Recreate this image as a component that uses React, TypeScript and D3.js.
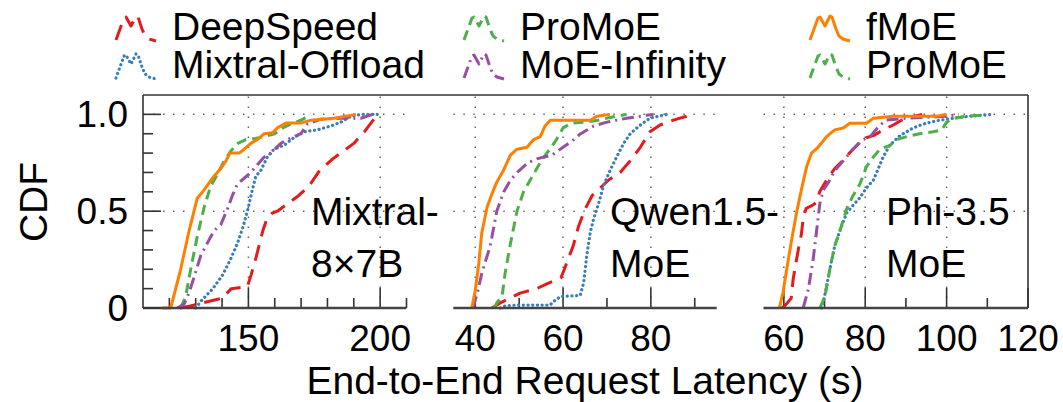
import React from 'react';
import * as d3 from 'd3';

type P = [number, number];

// ---------- data ----------
const seriesNames = ['DeepSpeed', 'Mixtral-Offload', 'ProMoE', 'MoE-Infinity', 'fMoE'];
const legendRows = [
  ['DeepSpeed', 'ProMoE', 'fMoE'],
  ['Mixtral-Offload', 'MoE-Infinity', 'ProMoE'],
];
const panelTitles = [['Mixtral-', '8×7B'], ['Qwen1.5-', 'MoE'], ['Phi-3.5', 'MoE']];
const xTickLabels = [[150, 200], [40, 60, 80], [60, 80, 100, 120]];
const yTickLabels = [0, 0.5, 1.0];
const yTickText = ['0', '0.5', '1.0'];
const xAxisTitle = 'End-to-End Request Latency (s)';
const yAxisTitle = 'CDF';

// Mixtral-8x7B
const mixDeepSpeed: P[] = [[124, 0], [128, 0.01], [133.6, 0.03], [140, 0.05], [143.5, 0.1], [149.6, 0.11], [151, 0.17], [152.5, 0.24], [154, 0.32], [155.5, 0.4], [157, 0.46], [159, 0.49], [161, 0.5], [165, 0.54], [169, 0.58], [173, 0.63], [177, 0.71], [182, 0.77], [186, 0.81], [190, 0.85], [194, 0.91], [199, 1.0]];
const mixOffload: P[] = [[130, 0], [132.3, 0.04], [136.5, 0.1], [140.2, 0.17], [143.5, 0.26], [146, 0.34], [148, 0.42], [149.8, 0.51], [151.5, 0.61], [152.8, 0.68], [154.7, 0.71], [157.2, 0.78], [159.7, 0.82], [163.5, 0.84], [167.3, 0.88], [171.1, 0.91], [176.2, 0.92], [181.3, 0.94], [185.1, 0.96], [188.9, 0.99], [192.7, 1.0], [200.3, 1.0]];
const mixProMoE: P[] = [[124.3, 0], [126.2, 0.06], [128.1, 0.2], [130.6, 0.37], [133.2, 0.52], [135.7, 0.63], [138.2, 0.69], [140.8, 0.76], [143.3, 0.81], [146, 0.85], [149, 0.87], [152.6, 0.876], [154.5, 0.88], [157, 0.89], [160, 0.9], [163, 0.93], [166, 0.95], [170, 0.97], [173.7, 1.0]];
const mixInfinity: P[] = [[123, 0], [125.6, 0.02], [127.5, 0.08], [129.4, 0.16], [131.9, 0.27], [134.4, 0.335], [137, 0.4], [139.5, 0.43], [142, 0.51], [143.9, 0.58], [145.8, 0.64], [148.4, 0.67], [150.9, 0.7], [153.4, 0.74], [156, 0.78], [158.5, 0.8], [162.3, 0.85], [164.8, 0.87], [169.9, 0.9], [172.4, 0.95], [177.5, 0.975], [185, 0.98], [192.7, 0.98], [196.5, 0.997], [199, 1.0]];
const mixFMoE: P[] = [[117.3, 0], [120.5, 0], [124.3, 0.2], [127.5, 0.4], [130.6, 0.567], [133.2, 0.61], [136.3, 0.67], [139.5, 0.72], [141.5, 0.76], [143, 0.8], [146.5, 0.8], [148.4, 0.82], [150.9, 0.85], [153.4, 0.87], [156, 0.9], [159.1, 0.905], [161, 0.93], [164.2, 0.955], [169.9, 0.955], [173.7, 0.97], [182.5, 0.98], [190.8, 1.0]];

// Qwen1.5-MoE
const qwenDeepSpeed: P[] = [[43.8, 0], [45.7, 0.026], [50.2, 0.077], [54, 0.1], [56.3, 0.125], [59.5, 0.155], [60.3, 0.2], [61.1, 0.25], [62.3, 0.32], [63.5, 0.42], [65, 0.51], [66.6, 0.58], [68.5, 0.62], [70.3, 0.66], [73, 0.7], [75.3, 0.76], [77.6, 0.83], [79.8, 0.91], [82.1, 0.945], [85.1, 0.97], [89.7, 1.0]];
const qwenOffload: P[] = [[45.7, 0], [47, 0.012], [49.5, 0.015], [57, 0.015], [58.2, 0.04], [59.5, 0.06], [63.9, 0.065], [64.7, 0.13], [65.4, 0.27], [66.2, 0.39], [66.9, 0.455], [68.1, 0.54], [69.2, 0.63], [70.7, 0.71], [72.2, 0.78], [73.8, 0.85], [75.3, 0.9], [77.6, 0.945], [79.8, 0.98], [83.6, 1.0]];
const qwenProMoE: P[] = [[44.3, 0], [45, 0.03], [46.1, 0.06], [46.8, 0.18], [48, 0.33], [49.5, 0.5], [51, 0.6], [53, 0.68], [55, 0.76], [57, 0.82], [58.5, 0.87], [60, 0.93], [62, 0.955], [65, 0.96], [68, 0.97], [71, 0.985], [74.5, 1.0]];
const qwenInfinity: P[] = [[39.5, 0], [40.5, 0.08], [41.5, 0.18], [43.4, 0.32], [44.9, 0.5], [46.5, 0.6], [48, 0.66], [50, 0.71], [52, 0.75], [54, 0.77], [57.5, 0.79], [60, 0.83], [62.5, 0.87], [64, 0.9], [67, 0.94], [70, 0.96], [74.5, 0.98], [79, 0.995], [80.6, 1.0]];
const qwenFMoE: P[] = [[39.2, 0], [40, 0.09], [40.8, 0.23], [41.5, 0.39], [42.7, 0.52], [43.8, 0.59], [44.9, 0.65], [46.4, 0.71], [48, 0.79], [49.5, 0.82], [51.8, 0.83], [53.3, 0.87], [54.8, 0.885], [55.9, 0.94], [57.1, 0.97], [61.6, 0.97], [66.2, 0.97], [67.7, 0.99], [70.7, 1.0]];

// Phi-3.5 MoE
const phiDeepSpeed: P[] = [[59.5, 0], [60.2, 0.01], [61.8, 0.05], [62.3, 0.15], [63.2, 0.26], [63.8, 0.33], [64.3, 0.38], [64.8, 0.47], [65.5, 0.515], [67, 0.53], [68, 0.545], [68.8, 0.6], [70.5, 0.66], [72.5, 0.72], [74.6, 0.765], [77, 0.82], [79.5, 0.875], [82, 0.89], [84.4, 0.92], [86.9, 0.945], [88.9, 0.97], [92, 0.99], [94, 1.0]];
const phiOffload: P[] = [[69.3, 0], [70.1, 0.07], [71.3, 0.2], [72.5, 0.32], [73.8, 0.4], [75.4, 0.49], [77, 0.53], [78.7, 0.57], [80.3, 0.62], [82, 0.66], [83.2, 0.72], [84.4, 0.78], [86, 0.84], [88.5, 0.89], [91.8, 0.93], [94.3, 0.95], [97.5, 0.967], [101.6, 0.98], [105.7, 0.99], [111.5, 1.0]];
const phiProMoE: P[] = [[68.85, 0], [70.1, 0.06], [71.3, 0.2], [72.5, 0.32], [73.8, 0.4], [75.4, 0.51], [77, 0.58], [78.7, 0.64], [80.3, 0.73], [82, 0.78], [83.6, 0.82], [86.1, 0.84], [87.7, 0.87], [90.2, 0.885], [93.4, 0.9], [96.7, 0.91], [98.8, 0.92], [100, 0.96], [101.6, 0.98], [104.9, 0.99], [108.2, 0.996], [109.8, 1.0]];
const phiInfinity: P[] = [[64.75, 0], [66, 0.095], [67.2, 0.25], [68, 0.39], [68.85, 0.54], [69.7, 0.61], [71, 0.65], [72.5, 0.71], [74.6, 0.76], [77, 0.82], [79.5, 0.87], [81, 0.88], [83, 0.93], [85, 0.97], [90, 0.98], [95, 0.985], [100, 0.99], [103, 1.0]];
const phiFMoE: P[] = [[58.9, 0], [59.8, 0.08], [60.7, 0.2], [61.9, 0.35], [63.1, 0.49], [64.3, 0.61], [65.6, 0.73], [66.8, 0.8], [68.4, 0.83], [70.5, 0.885], [72.5, 0.92], [74.6, 0.93], [76.2, 0.954], [80.3, 0.954], [82, 0.98], [86.9, 0.99], [97.5, 0.99], [100, 1.0]];

const panelData: Record<string, P[]>[] = [
  { 'DeepSpeed': mixDeepSpeed, 'Mixtral-Offload': mixOffload, 'ProMoE': mixProMoE, 'MoE-Infinity': mixInfinity, 'fMoE': mixFMoE },
  { 'DeepSpeed': qwenDeepSpeed, 'Mixtral-Offload': qwenOffload, 'ProMoE': qwenProMoE, 'MoE-Infinity': qwenInfinity, 'fMoE': qwenFMoE },
  { 'DeepSpeed': phiDeepSpeed, 'Mixtral-Offload': phiOffload, 'ProMoE': phiProMoE, 'MoE-Infinity': phiInfinity, 'fMoE': phiFMoE },
];

// ---------- styles / layout ----------
const styles: Record<string, { color: string; dash: string; cap: string; width: number }> = {
  'DeepSpeed': { color: '#e41a1c', dash: '16 9', cap: 'butt', width: 3 },
  'Mixtral-Offload': { color: '#377eb8', dash: '0.1 4.6', cap: 'round', width: 3.2 },
  'ProMoE': { color: '#4daf4a', dash: '10 6', cap: 'butt', width: 3 },
  'MoE-Infinity': { color: '#984ea3', dash: '12 5 2 5', cap: 'butt', width: 3 },
  'fMoE': { color: '#ff7f00', dash: 'none', cap: 'butt', width: 3 },
};

const panels = [
  { x0: 143, x1: 406.5, domain: [110, 210], minor: d3.range(120, 211, 10) },
  { x0: 453.3, x1: 716.7, domain: [35, 95], minor: d3.range(40, 91, 10) },
  { x0: 763.5, x1: 1028, domain: [55, 120], minor: d3.range(60, 121, 10) },
];

const TOP = 95;
const BOTTOM = 308;
const FONT = '"Liberation Sans", Arial, Helvetica, sans-serif';
const FS = 37;
const FS_BIG = 39;

const yScale = d3.scaleLinear().domain([0, 1.1]).range([BOTTOM, TOP]);

const iconPts: P[] = [[0, 27], [4, 16], [8, 5], [10, 4], [15, 13], [20, 3], [22, 4], [26, 16], [29, 23], [33, 26], [40, 28]];
const legendTextX = [172, 520, 866];
const legendBaseline = [40, 78];

export default function App() {
  const gridStyle = { stroke: '#666', strokeWidth: 1.5, strokeDasharray: '1.5 8.5', fill: 'none' };
  const iconLine = d3.line<P>().x(d => d[0]).y(d => d[1]);

  return (
    <svg width={1063} height={402} viewBox="0 0 1063 402" style={{ display: 'block', position: 'absolute', left: 0, top: 0, background: '#fff' }}>
      <rect x={0} y={0} width={1063} height={402} fill="#fff" />
      {/* legend */}
      {legendRows.map((row, ri) =>
        row.map((name, ci) => {
          const st = styles[name];
          const tx = legendTextX[ci];
          const by = legendBaseline[ri];
          const ix = tx - 56;
          const iy = by - 27;
          return (
            <g key={`lg-${ri}-${ci}`}>
              <path
                d={iconLine(iconPts.map(p => [ix + p[0], iy + p[1]] as P)) || ''}
                fill="none"
                stroke={st.color}
                strokeWidth={st.width}
                strokeDasharray={st.dash}
                strokeLinecap={st.cap as any}
                strokeLinejoin="round"
              />
              <text x={tx} y={by} fontFamily={FONT} fontSize={FS_BIG} fill="#000">{name}</text>
            </g>
          );
        })
      )}

      {panels.map((pn, pi) => {
        const xs = d3.scaleLinear().domain(pn.domain).range([pn.x0, pn.x1]);
        const line = d3.line<P>().x(d => xs(d[0])).y(d => yScale(d[1]));
        const majors = xTickLabels[pi];
        return (
          <g key={`p-${pi}`}>
            {/* grid */}
            {majors.filter(v => v < pn.domain[1]).map(v => (
              <line key={`gv-${v}`} x1={xs(v)} x2={xs(v)} y1={BOTTOM} y2={TOP} style={gridStyle} />
            ))}
            {[0.5, 1.0].map(v => (
              <line key={`gh-${v}`} x1={pn.x0} x2={pn.x1} y1={yScale(v)} y2={yScale(v)} style={gridStyle} />
            ))}
            {/* x ticks */}
            {pn.minor.map(v => {
              const isMajor = majors.includes(v);
              return (
                <line key={`xt-${v}`} x1={xs(v)} x2={xs(v)} y1={BOTTOM} y2={BOTTOM - (isMajor ? 20 : 10)} stroke="#333" strokeWidth={1.6} />
              );
            })}
            {/* curves */}
            {seriesNames.map(name => {
              const st = styles[name];
              return (
                <path
                  key={`c-${name}`}
                  d={line(panelData[pi][name]) || ''}
                  fill="none"
                  stroke={st.color}
                  strokeWidth={st.width}
                  strokeDasharray={st.dash}
                  strokeLinecap={st.cap as any}
                  strokeLinejoin="round"
                />
              );
            })}
            {/* bottom axis */}
            <line x1={pn.x0} x2={pn.x1} y1={BOTTOM} y2={BOTTOM} stroke="#444" strokeWidth={2.5} />
            {/* tick labels */}
            {majors.map(v => (
              <text key={`xl-${v}`} x={xs(v)} y={351} textAnchor="middle" fontFamily={FONT} fontSize={FS} fill="#000">{v}</text>
            ))}
            {/* panel title */}
            <text fontFamily={FONT} fontSize={FS_BIG} fill="#000">
              <tspan x={[311, 610, 886][pi]} y={225}>{panelTitles[pi][0]}</tspan>
              <tspan x={[311, 610, 886][pi]} y={277}>{panelTitles[pi][1]}</tspan>
            </text>
          </g>
        );
      })}

      {/* frame */}
      <line x1={143} x2={1028} y1={TOP} y2={TOP} stroke="#333" strokeWidth={1.6} />
      <line x1={143} x2={143} y1={TOP} y2={BOTTOM} stroke="#333" strokeWidth={1.6} />
      <line x1={1028} x2={1028} y1={TOP} y2={BOTTOM} stroke="#333" strokeWidth={1.6} />

      {/* y ticks */}
      {d3.range(0, 11).map(i => {
        const v = i / 10;
        const major = i === 0 || i === 5 || i === 10;
        return <line key={`yt-${i}`} x1={143} x2={143 + (major ? 18 : 10)} y1={yScale(v)} y2={yScale(v)} stroke="#333" strokeWidth={1.6} />;
      })}
      {yTickLabels.map((v, i) => (
        <text key={`yl-${i}`} x={128} y={yScale(v) + 13} textAnchor="end" fontFamily={FONT} fontSize={FS} fill="#000">{yTickText[i]}</text>
      ))}

      {/* axis titles */}
      <text x={585} y={394} textAnchor="middle" fontFamily={FONT} fontSize={39} fill="#000">{xAxisTitle}</text>
      <text transform="translate(47,202) rotate(-90)" textAnchor="middle" fontFamily={FONT} fontSize={39} fill="#000">{yAxisTitle}</text>
    </svg>
  );
}
